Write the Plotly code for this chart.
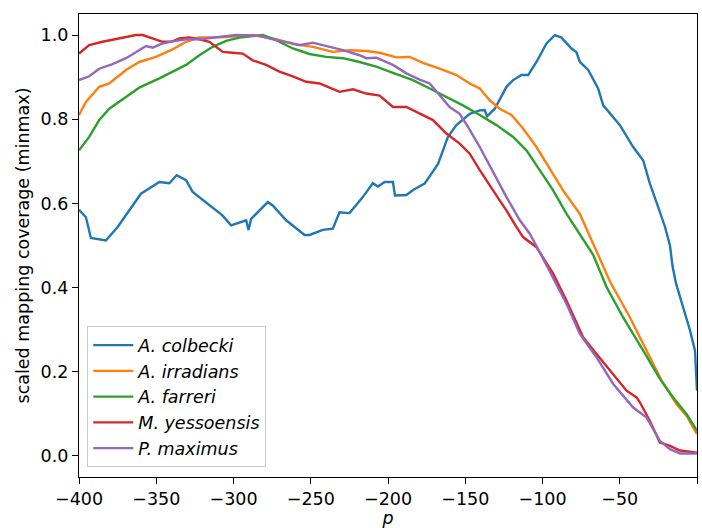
import plotly.graph_objects as go

# ---- data ----
names = ["<i>A. colbecki</i>", "<i>A. irradians</i>", "<i>A. farreri</i>",
         "<i>M. yessoensis</i>", "<i>P. maximus</i>"]
colors = ["#1f77b4", "#ff7f0e", "#2ca02c", "#d62728", "#9467bd"]

colbecki_x = [-400, -395.5, -392.3, -382.6, -375, -359.9, -348, -341.5, -336.8, -330.7, -326.4,
              -315.6, -307, -301.6, -291.8, -290.3, -288.6, -277.8, -274.6, -265.9, -254, -250.8,
              -242.2, -235.7, -231.4, -224.9, -216.3, -209.8, -206.5, -202.2, -196.8, -195.5,
              -188.1, -183.8, -176.3, -167.6, -161.2, -155.7, -147.1, -140.6, -137.4, -135.9,
              -130.9, -123.3, -119, -113.6, -109.3, -103.9, -97.4, -92, -87.7, -81.2, -78, -75.8,
              -70.4, -64, -60.7, -49.9, -41.3, -34.8, -30.5, -25.1, -20.7, -17.5, -15.8, -13.6,
              -8.9, -4.5, -1.3, 0]
colbecki_y = [0.585, 0.567, 0.518, 0.512, 0.544, 0.623, 0.651, 0.648, 0.667, 0.655, 0.627,
              0.595, 0.571, 0.548, 0.560, 0.537, 0.563, 0.603, 0.595, 0.560, 0.525, 0.525,
              0.537, 0.540, 0.579, 0.577, 0.615, 0.648, 0.640, 0.651, 0.651, 0.619,
              0.620, 0.632, 0.647, 0.694, 0.758, 0.786, 0.813, 0.821, 0.822, 0.807,
              0.825, 0.877, 0.893, 0.905, 0.905, 0.936, 0.980, 1.000, 0.994, 0.968, 0.959, 0.936,
              0.917, 0.873, 0.833, 0.786, 0.734, 0.702, 0.647, 0.591, 0.544, 0.500, 0.450, 0.410,
              0.353, 0.298, 0.250, 0.155]

irradians_x = [-400, -395.5, -386.9, -380.4, -369.6, -361, -350.2, -339.4, -330.7, -322.1, -304.8,
               -287.6, -272.4, -261.6, -248.7, -235.7, -224.9, -214.1, -205.4, -194.6, -186,
               -177.4, -166.6, -155.7, -147.1, -140.6, -134.2, -127.7, -120.1, -112.6, -103.9,
               -95.3, -86.7, -75.8, -67.2, -56.4, -43.4, -32.6, -22.9, -13.2, -6.7, 0]
irradians_y = [0.81, 0.841, 0.877, 0.885, 0.917, 0.936, 0.948, 0.966, 0.984, 0.994, 0.995,
               1.0, 0.99, 0.979, 0.972, 0.96, 0.964, 0.962, 0.958, 0.947, 0.948,
               0.934, 0.92, 0.905, 0.885, 0.873, 0.845, 0.825, 0.81, 0.778, 0.734,
               0.683, 0.631, 0.575, 0.505, 0.415, 0.329, 0.25, 0.179, 0.123, 0.095, 0.052]

farreri_x = [-400, -393.4, -386.9, -380.4, -369.6, -361, -348, -339.4, -330.7, -322.1, -313.5,
             -304.8, -296.2, -281.1, -272.4, -261.6, -250.8, -240, -229.2, -218.4, -207.6,
             -196.8, -183.8, -173, -162.2, -151.5, -140.6, -129.8, -119, -110.4, -101.8, -93.1,
             -84.4, -75.8, -67.2, -58.5, -47.8, -34.8, -24, -15.4, -6.7, 0]
farreri_y = [0.726, 0.758, 0.798, 0.825, 0.853, 0.875, 0.897, 0.913, 0.929, 0.952, 0.972,
             0.986, 0.994, 1.0, 0.988, 0.968, 0.955, 0.948, 0.945, 0.936, 0.925,
             0.910, 0.893, 0.873, 0.853, 0.833, 0.81, 0.786, 0.758, 0.726, 0.679, 0.631,
             0.575, 0.528, 0.478, 0.401, 0.329, 0.25, 0.183, 0.139, 0.099, 0.06]

yessoensis_x = [-400, -393.4, -384.8, -376.1, -369.6, -363.1, -358.8, -352.3, -345.9, -339.4,
                -335.1, -328.6, -322.1, -315.6, -311.3, -307, -300.5, -294, -287.6, -278.9,
                -270.3, -261.6, -252.9, -244.3, -237.8, -231.4, -222.7, -214.1, -205.4, -196.8,
                -188.1, -179.5, -170.9, -162.2, -153.6, -147.1, -140.6, -132, -123.3, -116.9,
                -112.6, -103.9, -97.4, -93.1, -84.4, -73.7, -65, -54.2, -45.6, -39.1, -36.9,
                -30.5, -24, -17.5, -11, 0]
yessoensis_y = [0.956, 0.976, 0.984, 0.99, 0.996, 1.0, 1.0, 0.992, 0.984, 0.985,
                0.992, 0.994, 0.99, 0.984, 0.972, 0.96, 0.958, 0.956, 0.94, 0.929,
                0.913, 0.902, 0.889, 0.885, 0.875, 0.865, 0.871, 0.861, 0.856, 0.829,
                0.829, 0.813, 0.798, 0.766, 0.742, 0.718, 0.679, 0.631, 0.583, 0.544,
                0.52, 0.496, 0.46, 0.433, 0.369, 0.282, 0.242, 0.194, 0.155, 0.139, 0.127,
                0.083, 0.032, 0.024, 0.013, 0.008]

maximus_x = [-400, -393.4, -386.9, -378.3, -369.6, -363.1, -356.6, -352.3, -345.9, -339.4,
             -330.7, -322.1, -311.3, -298.3, -283.2, -272.4, -263.8, -257.3, -248.7, -240,
             -229.2, -218.4, -214.1, -207.6, -201.1, -196.8, -188.1, -179.5, -173, -166.6,
             -160.1, -153.6, -148.2, -140.6, -132, -123.3, -114.7, -108.2, -101.8, -93.1,
             -84.4, -75.8, -65, -54.2, -41.3, -32.6, -24, -17.5, -11, 0]
maximus_y = [0.893, 0.902, 0.92, 0.931, 0.945, 0.96, 0.974, 0.97, 0.98, 0.985,
             0.99, 0.99, 0.994, 1.0, 0.998, 0.988, 0.982, 0.976, 0.982, 0.974,
             0.964, 0.952, 0.945, 0.946, 0.936, 0.929, 0.909, 0.894, 0.885, 0.857,
             0.829, 0.813, 0.782, 0.734, 0.675, 0.615, 0.56, 0.528, 0.484, 0.423,
             0.361, 0.29, 0.234, 0.171, 0.115, 0.091, 0.036, 0.016, 0.006, 0.006]

series_x = [colbecki_x, irradians_x, farreri_x, yessoensis_x, maximus_x]
series_y = [colbecki_y, irradians_y, farreri_y, yessoensis_y, maximus_y]

x_ticks = [-400, -350, -300, -250, -200, -150, -100, -50, 0]
x_ticktext = ["\u2212400", "\u2212350", "\u2212300", "\u2212250", "\u2212200",
              "\u2212150", "\u2212100", "\u221250", "0"]
y_ticks = [0.0, 0.2, 0.4, 0.6, 0.8, 1.0]
y_ticktext = ["0.0", "0.2", "0.4", "0.6", "0.8", "1.0"]

FONT = "DejaVu Sans"
FS = 17.5

fig = go.Figure()
for i, (nm, xs, ys, c) in enumerate(zip(names, series_x, series_y, colors)):
    fig.add_trace(go.Scatter(x=xs, y=ys, mode="lines", name=nm,
                             line=dict(color=c, width=2.4)))

axis_common = dict(showline=True, linecolor="black", linewidth=1.2, mirror=True,
                   ticks="outside", ticklen=6, tickwidth=1.2, tickcolor="black",
                   showgrid=False, zeroline=False, automargin=False,
                   tickfont=dict(family=FONT, size=FS, color="black"))

fig.update_xaxes(range=[-400, 0], tickvals=x_ticks, ticktext=x_ticktext,
                 title=dict(text="<i>p</i>", font=dict(family=FONT, size=FS, color="black"),
                            standoff=2),
                 **axis_common)
fig.update_yaxes(range=[-0.05, 1.05], tickvals=y_ticks, ticktext=y_ticktext,
                 title=dict(text="scaled mapping coverage (minmax)",
                            font=dict(family=FONT, size=FS, color="black"), standoff=6),
                 **axis_common)

fig.update_layout(
    width=702, height=528,
    margin=dict(l=79, r=5, t=14, b=51, pad=0),
    paper_bgcolor="white", plot_bgcolor="white",
    font=dict(family=FONT, size=FS, color="black"),
    showlegend=True,
    legend=dict(x=0.0134, y=0.021, xanchor="left", yanchor="bottom",
                bgcolor="rgba(255,255,255,0.8)", bordercolor="#cccccc", borderwidth=1,
                font=dict(family=FONT, size=FS, color="black"),
                itemwidth=40),
)

fig.write_html("out.html", config={"displayModeBar": False},
               post_script="document.body.style.margin='0';document.body.style.padding='0';")
